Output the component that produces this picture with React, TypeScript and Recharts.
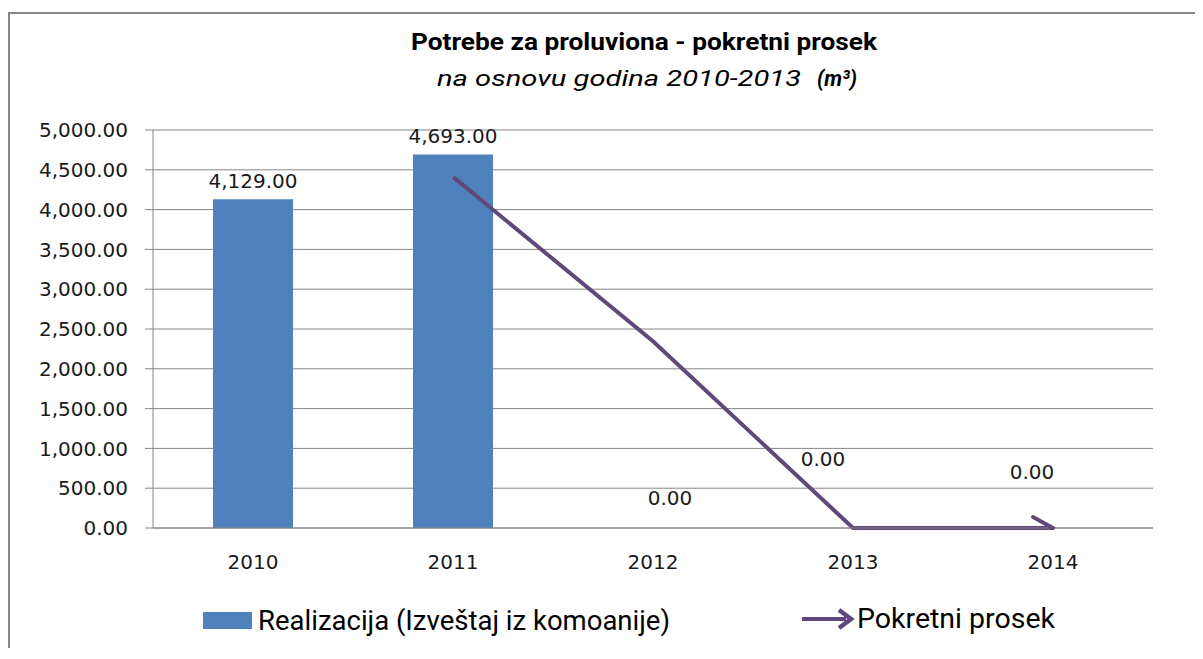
import { ComposedChart, Bar, Line, XAxis, YAxis, CartesianGrid, LabelList } from 'recharts';

const years = ['2010', '2011', '2012', '2013', '2014'];
const realizacija = [4129, 4693, 0, 0, 0];
const pokretniProsek = [null, 4411, 2346.5, 0, 0];
const yTicks = [0, 500, 1000, 1500, 2000, 2500, 3000, 3500, 4000, 4500, 5000];
const edgeTicks = [0, 1, 2, 3, 4, 5];

const BAR_COLOR = '#4F81BD';
const LINE_COLOR = '#5F497A';
const GRID = '#868686';
const FONT = '"DejaVu Sans", sans-serif';
const NARROW = 'Roboto, "Liberation Sans", sans-serif';

const data = years.map((year, i) => ({
  year,
  realizacija: realizacija[i],
  prosek: pokretniProsek[i],
}));

const fmt = (v: number) =>
  v.toLocaleString('en-US', { minimumFractionDigits: 2, maximumFractionDigits: 2 });

function BarLabel(props: any) {
  const { x, y, width, value, index } = props;
  if (index > 1) return null;
  return (
    <text x={x + width / 2} y={y - 11} textAnchor="middle" fontFamily={FONT} fontSize={20} fill="#1a1a1a">
      {fmt(value)}
    </text>
  );
}

// zero bars draw no rect, so their label hangs off an invisible line on the same values
function ZeroBarLabel(props: any) {
  const { x, y, value, index } = props;
  if (index !== 2) return null;
  return (
    <text x={x + 17} y={y - 23} textAnchor="middle" fontFamily={FONT} fontSize={20} fill="#1a1a1a">
      {fmt(value)}
    </text>
  );
}

function LineLabel(props: any) {
  const { x, y, value, index } = props;
  if (index < 3) return null;
  const dx = index === 3 ? -30 : -21;
  const dy = index === 3 ? -62 : -49;
  return (
    <text x={x + dx} y={y + dy} textAnchor="middle" fontFamily={FONT} fontSize={20} fill="#1a1a1a">
      {fmt(value)}
    </text>
  );
}

function ArrowDot(props: any) {
  const { cx, cy, index } = props;
  if (index !== years.length - 1 || cx == null) return <g key={`d-${index}`} />;
  return (
    <path
      key={`d-${index}`}
      d={`M${cx - 20},${cy - 11} L${cx},${cy}`}
      stroke={LINE_COLOR}
      strokeWidth={4}
      fill="none"
      strokeLinecap="round"
    />
  );
}

export default function App() {
  return (
    <div style={{ position: 'relative', width: 1187, height: 640, overflow: 'hidden', background: '#fff' }}>
      <div
        style={{
          position: 'absolute',
          left: 0,
          top: 4,
          width: 1210,
          height: 700,
          border: '2px solid #878787',
          boxSizing: 'border-box',
        }}
      />
      <div style={{ position: 'absolute', left: 0, top: 0 }}>
        <ComposedChart width={1187} height={640} data={data} margin={{ top: 122, right: 42, left: 0, bottom: 80 }}>
          <CartesianGrid vertical={false} stroke={GRID} />
          <XAxis
            xAxisId="edge"
            type="number"
            domain={[0, 5]}
            ticks={edgeTicks}
            height={0}
            axisLine={false}
            tickLine={{ stroke: GRID }}
            tickSize={8}
            tickFormatter={() => ''}
          />
          <XAxis
            dataKey="year"
            height={40}
            tickLine={false}
            axisLine={{ stroke: GRID }}
            tickSize={8}
            tickMargin={19}
            tick={{ fontFamily: FONT, fontSize: 20, fill: '#1a1a1a' }}
          />
          <YAxis
            width={145}
            domain={[0, 5000]}
            ticks={yTicks}
            interval={0}
            axisLine={{ stroke: GRID }}
            tickLine={{ stroke: GRID }}
            tickSize={8}
            tickMargin={17}
            tickFormatter={fmt}
            tick={{ fontFamily: FONT, fontSize: 20, fill: '#1a1a1a' }}
          />
          <Bar dataKey="realizacija" fill={BAR_COLOR} barSize={80} isAnimationActive={false}>
            <LabelList dataKey="realizacija" content={BarLabel} />
          </Bar>
          <Line
            dataKey="realizacija"
            stroke="none"
            dot={false}
            activeDot={false}
            legendType="none"
            isAnimationActive={false}
          >
            <LabelList dataKey="realizacija" content={ZeroBarLabel} />
          </Line>
          <Line
            dataKey="prosek"
            type="linear"
            stroke={LINE_COLOR}
            strokeWidth={4}
            dot={ArrowDot}
            activeDot={false}
            isAnimationActive={false}
          >
            <LabelList dataKey="prosek" content={LineLabel} />
          </Line>
        </ComposedChart>
      </div>
      <svg width={1187} height={640} style={{ position: 'absolute', left: 0, top: 0, pointerEvents: 'none' }}>
        <text x={403} y={42} fontFamily={NARROW} fontWeight="bold" fontSize={23} fill="#000" textLength={466} lengthAdjust="spacingAndGlyphs">
          Potrebe za proluviona - pokretni prosek
        </text>
        <text x={429} y={78} fontFamily={NARROW} fontStyle="italic" fontSize={22} fill="#000" textLength={364} lengthAdjust="spacingAndGlyphs">
          na osnovu godina 2010-2013
        </text>
        <text x={809} y={78} fontFamily={NARROW} fontStyle="italic" fontWeight="bold" fontSize={22} fill="#000" textLength={40} lengthAdjust="spacingAndGlyphs">
          (m³)
        </text>
        <rect x={195} y={604} width={49} height={17} fill={BAR_COLOR} />
        <text x={250} y={622} fontFamily={NARROW} fontSize={28} fill="#000" textLength={412} lengthAdjust="spacingAndGlyphs">
          Realizacija (Izveštaj iz komoanije)
        </text>
        <line x1={794} y1={611} x2={838} y2={611} stroke={LINE_COLOR} strokeWidth={4} />
        <polyline points="831,602 843,611 831,620" stroke={LINE_COLOR} strokeWidth={4.5} fill="none" />
        <text x={849} y={620} fontFamily={NARROW} fontSize={28} fill="#000" textLength={198} lengthAdjust="spacingAndGlyphs">
          Pokretni prosek
        </text>
      </svg>
    </div>
  );
}
